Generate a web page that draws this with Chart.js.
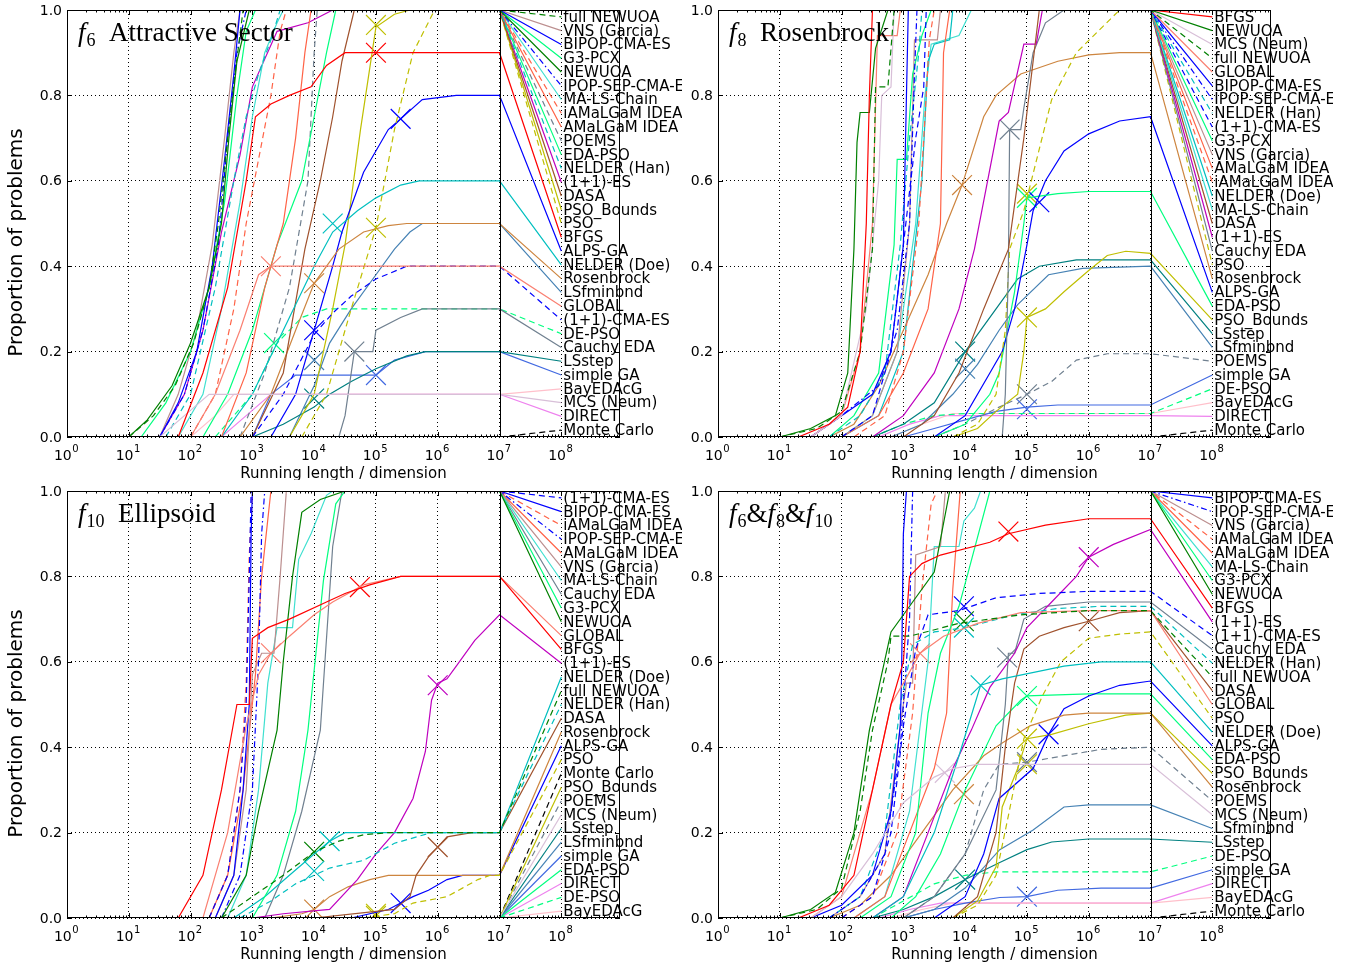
<!DOCTYPE html>
<html>
<head>
<meta charset="utf-8">
<script src="https://cdn.jsdelivr.net/npm/chart.js@4.4.0/dist/chart.umd.min.js"></script>
<style>
  body { margin: 0; background: #fff; width: 1355px; height: 967px; overflow: hidden; position: relative; }
  canvas { position: absolute; }
</style>
</head>
<body>
<canvas id="c6" width="682" height="480" style="left:0;top:0"></canvas>
<canvas id="c8" width="651" height="480" style="left:682px;top:0"></canvas>
<canvas id="c10" width="682" height="487" style="left:0;top:480px"></canvas>
<canvas id="call" width="651" height="487" style="left:682px;top:480px"></canvas>
<script>
// algorithm names (all panels use this order for the run arrays below)
const algos = ['BFGS', 'NEWUOA', 'full NEWUOA', 'MCS (Neum)', 'GLOBAL', 'BIPOP-CMA-ES', 'IPOP-SEP-CMA-ES',
  'NELDER (Han)', '(1+1)-CMA-ES', 'G3-PCX', 'VNS (Garcia)', 'AMaLGaM IDEA', 'iAMaLGaM IDEA', 'NELDER (Doe)',
  'MA-LS-Chain', 'DASA', '(1+1)-ES', 'Cauchy EDA', 'PSO', 'Rosenbrock', 'ALPS-GA', 'EDA-PSO', 'PSO_Bounds',
  'LSstep', 'LSfminbnd', 'POEMS', 'simple GA', 'DE-PSO', 'BayEDAcG', 'DIRECT', 'Monte Carlo'];

const algoColors = ['#ff0000', '#008000', '#008000', '#d8bfd8', '#fa8072', '#0000ff', '#0000ff',
  '#00bfbf', '#0000ff', '#00ff7f', '#bc8f8f', '#ff6347', '#ff6347', '#00bfbf',
  '#40e0d0', '#a0522d', '#bf00bf', '#708090', '#bfbf00', '#cd853f', '#0000ff', '#00ff7f', '#bfbf00',
  '#008080', '#4682b4', '#708090', '#4169e1', '#00ff7f', '#ffc0cb', '#ee82ee', '#000000'];

const algoStyles = ['-', '-', '--', '-', '-', '-', '-.', '--', '--', '-', '-', '-', '--', '-', '-', '-', '-', '-',
  '--', '-', '-', '-', '-', '-', '-', '--', '-', '--', '-', '-', '--'];

const xTicks = [0, 1, 2, 3, 4, 5, 6, 7, 8]; // exponents, shown as 10^k
const yTicks = [0, 0.2, 0.4, 0.6, 0.8, 1.0];

// runs: flat [log10(evals/dim), proportion, ...] pairs, same order as algos
const f6Runs = [
  [1.8,0, 2.2,0.15, 2.6,0.35, 2.9,0.6, 3.05,0.75, 3.3,0.78, 3.6,0.8, 3.95,0.82, 4.2,0.87, 4.5,0.9], // BFGS
  [1,0, 1.3,0.04, 1.7,0.12, 2,0.22, 2.3,0.35, 2.5,0.5, 2.62,0.7, 2.75,0.88, 2.95,1], // NEWUOA
  [1,0, 1.4,0.05, 1.75,0.12, 2.05,0.22, 2.3,0.35, 2.45,0.5, 2.6,0.7, 2.72,0.85, 2.85,1], // full NEWUOA
  [1.5,0, 1.9,0.05, 2.3,0.1], // MCS
  [2,0, 2.4,0.1, 2.8,0.25, 3.1,0.38, 3.3,0.4], // GLOBAL
  [1.5,0, 1.8,0.08, 2.1,0.2, 2.35,0.4, 2.55,0.65, 2.7,0.85, 2.8,1], // BIPOP
  [1.5,0, 1.9,0.1, 2.2,0.25, 2.45,0.45, 2.6,0.7, 2.75,0.9, 2.9,1], // IPOP-SEP
  [1.6,0, 2,0.1, 2.4,0.35, 2.7,0.6, 2.9,0.75, 3.1,0.85, 3.3,0.93, 3.45,1], // NELDER (Han)
  [3,0, 3.5,0.1, 4,0.24, 4.3,0.29, 4.6,0.33, 5,0.37, 5.5,0.4], // (1+1)-CMA-ES
  [1.2,0, 1.6,0.08, 2,0.2, 2.3,0.35, 2.55,0.55, 2.75,0.8, 2.9,0.95, 3.05,1], // G3-PCX
  [1.5,0, 1.8,0.1, 2.1,0.25, 2.35,0.45, 2.55,0.7, 2.7,0.9, 2.8,1], // VNS
  [2.5,0, 2.9,0.15, 3.2,0.35, 3.5,0.5, 3.7,0.7, 3.85,0.9, 3.95,1], // AMaLGaM
  [2,0, 2.4,0.1, 2.7,0.3, 2.9,0.5, 3.1,0.65, 3.3,0.8, 3.45,0.95, 3.55,1], // iAMaLGaM
  [2.5,0, 3,0.1, 3.5,0.25, 4,0.4, 4.3,0.48, 4.7,0.53, 5,0.56, 5.4,0.59, 5.7,0.6], // NELDER (Doe)
  [1.8,0, 2.2,0.1, 2.5,0.3, 2.8,0.55, 3,0.75, 3.2,0.9, 3.4,0.97, 3.5,1], // MA-LS-Chain
  [3,0, 3.5,0.15, 3.85,0.44, 4.1,0.6, 4.3,0.75, 4.45,0.88, 4.65,1], // DASA
  [1.5,0, 1.9,0.1, 2.2,0.25, 2.5,0.48, 2.8,0.66, 3,0.82, 3.4,0.95, 3.9,0.97, 4.3,1], // (1+1)-ES
  [4.4,0, 4.5,0.05, 4.6,0.15, 4.65,0.2, 4.95,0.2, 5,0.25, 5.4,0.28, 5.75,0.3], // Cauchy EDA
  [3.8,0, 4.2,0.1, 4.6,0.3, 5,0.49, 5.3,0.72, 5.6,0.9, 5.95,1], // PSO
  [2.8,0, 3.3,0.1, 3.7,0.25, 4,0.36, 4.4,0.44, 4.8,0.48, 5.2,0.495, 5.5,0.5], // Rosenbrock
  [3.3,0, 3.7,0.1, 4,0.25, 4.3,0.4, 4.45,0.48, 4.8,0.62, 5.2,0.72, 5.4,0.745, 5.75,0.79, 6.3,0.8], // ALPS-GA
  [2.2,0, 2.6,0.1, 3,0.25, 3.4,0.45, 3.8,0.6, 4,0.75, 4.2,0.9, 4.35,1], // EDA-PSO
  [3.6,0, 4,0.1, 4.3,0.3, 4.5,0.45, 4.75,0.72, 5,0.96, 5.3,0.99, 5.55,1], // PSO_Bounds
  [3,0, 3.5,0.03, 4,0.07, 4.25,0.1, 4.6,0.13, 5,0.16, 5.5,0.19, 5.8,0.2], // LSstep
  [3.6,0, 4,0.12, 4.25,0.22, 4.6,0.3, 5,0.38, 5.3,0.44, 5.55,0.48, 5.75,0.5], // LSfminbnd
  [2.8,0, 3.2,0.15, 3.6,0.35, 3.9,0.6, 4,0.9, 4.05,1], // POEMS
  [3,0, 3.3,0.1, 3.7,0.145, 5,0.145, 5.3,0.18, 5.8,0.2], // simple GA
  [2.4,0, 3,0.1, 3.4,0.22, 3.8,0.28, 4.2,0.3], // DE-PSO
  [2,0, 2.4,0.05, 2.7,0.1], // BayEDAcG
  [2.5,0, 2.9,0.05, 3.3,0.1], // DIRECT
  [7,0] // Monte Carlo
];

const f8Runs = [
  [1.3,0, 1.8,0.03, 2.1,0.07, 2.3,0.2, 2.4,0.5, 2.45,0.8, 2.5,1], // BFGS
  [1,0, 1.5,0.02, 1.9,0.05, 2.1,0.15, 2.2,0.44, 2.25,0.69, 2.3,0.76, 2.45,0.76, 2.55,0.91, 2.75,1], // NEWUOA
  [1,0, 1.6,0.02, 2,0.06, 2.3,0.2, 2.5,0.44, 2.55,0.82, 2.75,0.82, 2.85,1], // full NEWUOA
  [1.5,0, 2,0.05, 2.4,0.3, 2.6,0.6, 2.65,0.8, 2.8,0.82, 2.85,1], // MCS
  [1.5,0, 2,0.05, 2.3,0.2, 2.5,0.5, 2.58,0.94, 2.9,0.94, 2.95,1], // GLOBAL
  [1.5,0, 2,0.05, 2.5,0.1, 2.8,0.2, 3,0.45, 3.05,0.8, 3.08,1], // BIPOP
  [1.5,0, 2,0.05, 2.6,0.12, 2.9,0.25, 3.1,0.5, 3.18,0.85, 3.22,1], // IPOP-SEP
  [1.8,0, 2.3,0.05, 2.7,0.15, 2.95,0.45, 3.1,0.7, 3.25,0.9, 3.3,1], // NELDER (Han)
  [2,0, 2.5,0.05, 2.8,0.2, 3,0.45, 3.2,0.7, 3.33,0.82, 3.37,1], // (1+1)-CMA-ES
  [1.8,0, 2.2,0.05, 2.6,0.15, 2.85,0.45, 2.9,0.65, 3.05,0.65, 3.15,0.85, 3.3,0.94, 3.45,1], // G3-PCX
  [2,0, 2.5,0.05, 2.9,0.2, 3.1,0.5, 3.18,0.93, 3.55,0.93, 3.6,1], // VNS
  [2,0, 2.6,0.05, 3,0.15, 3.4,0.3, 3.6,0.5, 3.65,0.9, 3.75,1], // AMaLGaM
  [2.2,0, 2.7,0.05, 3,0.2, 3.25,0.5, 3.35,0.75, 3.42,0.93, 3.5,1], // iAMaLGaM
  [2,0, 2.6,0.05, 3,0.2, 3.3,0.6, 3.4,0.88, 3.5,0.92, 3.75,0.93, 3.8,1], // NELDER (Doe)
  [2,0, 2.5,0.05, 2.9,0.2, 3.2,0.5, 3.35,0.8, 3.45,0.92, 3.9,0.94, 4.1,1], // MA-LS-Chain
  [3,0, 3.5,0.05, 3.9,0.15, 4.3,0.3, 4.7,0.44, 4.95,0.7, 5.2,1], // DASA
  [2.5,0, 3,0.05, 3.5,0.15, 3.9,0.3, 4.15,0.44, 4.55,0.74, 4.7,0.76, 4.95,0.92, 5.15,0.92, 5.25,1], // (1+1)-ES
  [4.6,0, 4.65,0.1, 4.7,0.4, 4.72,0.72, 4.9,0.72, 4.95,0.77, 5.1,0.9, 5.3,0.97, 5.6,1], // Cauchy EDA
  [3.8,0, 4.2,0.03, 4.5,0.1, 4.65,0.25, 4.72,0.44, 4.95,0.53, 5.4,0.79, 5.8,0.9, 6.5,1], // PSO
  [1.8,0, 2.2,0.03, 2.6,0.12, 3,0.25, 3.4,0.38, 3.7,0.5, 3.95,0.59, 4.3,0.75, 4.5,0.8, 4.9,0.85, 5.5,0.88, 6,0.895, 6.5,0.9], // Rosenbrock
  [3.5,0, 4,0.05, 4.4,0.15, 4.6,0.2, 4.8,0.3, 5,0.45, 5.1,0.53, 5.3,0.6, 5.6,0.67, 6,0.71, 6.5,0.74, 7,0.75], // ALPS-GA
  [3.5,0, 4,0.03, 4.4,0.1, 4.55,0.15, 4.8,0.34, 4.95,0.5, 5,0.56, 5.5,0.57, 6,0.575], // EDA-PSO
  [3.8,0, 4.2,0.02, 4.5,0.06, 4.85,0.1, 4.95,0.2, 5,0.28, 5.3,0.3, 5.6,0.34, 6,0.39, 6.3,0.425, 6.6,0.435, 7,0.43], // PSO_Bounds
  [2.5,0, 3,0.03, 3.5,0.08, 4,0.2, 4.5,0.3, 4.85,0.37, 5.2,0.4, 5.8,0.415], // LSstep
  [2.8,0, 3.3,0.03, 3.8,0.1, 4.2,0.17, 4.55,0.25, 4.85,0.31, 5.35,0.38, 5.9,0.395, 7,0.4], // LSfminbnd
  [3.5,0, 4,0.03, 4.55,0.07, 5,0.1, 5.4,0.13, 5.8,0.18, 6.3,0.195, 7,0.195], // POEMS
  [3,0, 3.5,0.02, 4,0.04, 4.5,0.06, 5,0.07, 5.5,0.075], // simple GA
  [2.5,0, 3,0.03, 3.5,0.05, 4,0.055], // DE-PSO
  [2.8,0, 3.3,0.03, 3.8,0.055], // BayEDAcG
  [2.6,0, 3.1,0.03, 3.6,0.05], // DIRECT
  [7,0] // Monte Carlo
];

const f10Runs = [
  [1.8,0, 2.2,0.1, 2.5,0.3, 2.75,0.5, 2.95,0.5, 3,0.655, 3.25,0.68, 3.6,0.7, 4.2,0.74, 4.5,0.76, 4.9,0.78, 5.4,0.8], // BFGS
  [2.5,0, 2.9,0.1, 3.1,0.25, 3.4,0.44, 3.5,0.6, 3.65,0.8, 3.8,0.95, 4.1,0.98, 4.5,1], // NEWUOA
  [2.5,0, 3,0.05, 3.5,0.1, 4,0.155, 4.4,0.18, 4.8,0.195, 5.2,0.2], // full NEWUOA
  [7,0], // MCS
  [2.2,0, 2.6,0.2, 2.9,0.45, 3.1,0.57, 3.3,0.62, 3.6,0.66, 4,0.71, 4.3,0.74, 4.8,0.78, 5.4,0.8], // GLOBAL
  [2.4,0, 2.7,0.1, 2.85,0.3, 2.95,0.5, 2.98,0.9, 3,1], // BIPOP
  [2.5,0, 2.8,0.1, 3,0.3, 3.1,0.6, 3.15,0.9, 3.2,1], // IPOP-SEP
  [2.8,0, 3.3,0.04, 3.7,0.08, 4,0.1, 4.25,0.117, 4.8,0.135, 5.3,0.175, 5.9,0.2], // NELDER (Han)
  [2.3,0, 2.6,0.1, 2.8,0.3, 2.9,0.5, 2.95,0.8, 2.98,1], // (1+1)-CMA-ES
  [3,0, 3.4,0.1, 3.7,0.25, 3.9,0.44, 4.15,0.79, 4.35,0.97, 4.5,1], // G3-PCX
  [2.4,0, 2.7,0.1, 2.9,0.3, 3,0.57, 3.15,0.62, 3.35,0.62, 3.45,0.8, 3.55,1], // VNS
  [2.3,0, 2.6,0.1, 2.85,0.3, 3.05,0.57, 3.15,0.8, 3.3,1], // AMaLGaM
  [2.3,0, 2.6,0.1, 2.8,0.3, 2.9,0.55, 2.95,0.85, 3,1], // iAMaLGaM
  [2.7,0, 3.2,0.05, 3.6,0.1, 4,0.15, 4.25,0.18, 4.5,0.2], // NELDER (Doe)
  [2.6,0, 2.9,0.1, 3.1,0.3, 3.25,0.55, 3.4,0.68, 3.65,0.68, 3.75,0.84, 3.95,0.9, 4.2,0.99, 4.3,1], // MA-LS-Chain
  [4,0, 5.3,0.02, 5.55,0.05, 5.65,0.1, 5.85,0.143, 6,0.166, 6.15,0.19, 6.55,0.2], // DASA
  [3,0, 3.5,0.01, 4.25,0.02, 4.7,0.09, 5,0.15, 5.3,0.2, 5.6,0.28, 5.8,0.39, 5.9,0.51, 6,0.55, 6.15,0.56, 6.3,0.59, 6.6,0.65, 7,0.71], // (1+1)-ES
  [3.2,0, 3.5,0.1, 3.8,0.25, 4.1,0.44, 4.3,0.87, 4.45,1], // Cauchy EDA
  [4.8,0, 5.3,0.01, 5.6,0.035, 6.15,0.05, 6.4,0.07, 6.65,0.09, 6.85,0.1], // PSO
  [3.3,0, 3.8,0.01, 4,0.02, 4.25,0.05, 4.55,0.073, 4.9,0.09, 5.2,0.1], // Rosenbrock
  [4.6,0, 5.2,0.02, 5.4,0.035, 5.6,0.05, 5.85,0.065, 6.15,0.09, 6.4,0.1], // ALPS-GA
  [7,0], [7,0], [7,0], [7,0], [7,0], [7,0], [7,0], [7,0], [7,0], [7,0] // EDA-PSO .. Monte Carlo
];

const fAllRuns = [
  [1.3,0, 1.8,0.03, 2.2,0.1, 2.5,0.3, 2.8,0.5, 3,0.6, 3.1,0.8, 3.3,0.83, 3.6,0.85, 4.4,0.88, 4.7,0.9, 5.3,0.92, 6,0.935], // BFGS
  [1,0, 1.5,0.02, 1.9,0.06, 2.2,0.2, 2.45,0.44, 2.8,0.67, 3.15,0.74, 3.5,0.81, 3.75,1], // NEWUOA
  [1,0, 1.6,0.02, 2,0.07, 2.3,0.25, 2.5,0.44, 2.75,0.6, 2.8,0.66, 3.1,0.66, 3.9,0.69, 4.9,0.71, 6,0.72], // full NEWUOA
  [1.5,0, 2,0.05, 2.5,0.15, 3,0.27, 3.5,0.33, 3.8,0.35, 4.2,0.36], // MCS
  [1.5,0, 2,0.05, 2.5,0.3, 2.8,0.5, 3,0.55, 3.27,0.62, 3.65,0.66, 4.2,0.69, 4.9,0.715, 6,0.72], // GLOBAL
  [1.5,0, 2,0.03, 2.5,0.1, 2.8,0.25, 2.95,0.45, 2.97,0.56, 3,0.9, 3.05,1], // BIPOP
  [1.8,0, 2.3,0.05, 2.7,0.15, 2.95,0.4, 3.1,0.7, 3.15,1], // IPOP-SEP
  [1.8,0, 2.3,0.05, 2.7,0.2, 2.95,0.5, 3.15,0.64, 3.5,0.67, 4,0.68, 4.8,0.71, 5.5,0.725, 6.2,0.73], // NELDER (Han)
  [2,0, 2.5,0.05, 2.8,0.2, 3,0.45, 3.2,0.63, 3.4,0.71, 3.9,0.72, 4.5,0.75, 5.2,0.76, 6,0.765], // (1+1)-CMA-ES
  [2.3,0, 2.8,0.05, 3.2,0.2, 3.4,0.48, 3.6,0.62, 3.9,0.73, 4.05,0.81, 4.4,1], // G3-PCX
  [1.8,0, 2.3,0.05, 2.7,0.15, 2.95,0.45, 3.05,0.55, 3.15,0.55, 3.2,0.85, 3.6,0.87, 3.68,1], // VNS
  [2.2,0, 2.7,0.05, 3.1,0.2, 3.5,0.35, 3.7,0.48, 3.8,0.77, 3.92,1], // AMaLGaM
  [2,0, 2.5,0.05, 2.9,0.2, 3.15,0.48, 3.3,0.77, 3.45,0.97, 3.55,1], // iAMaLGaM
  [2.5,0, 3,0.05, 3.5,0.2, 3.9,0.38, 4.25,0.545, 4.6,0.56, 5.6,0.59, 6.2,0.6], // NELDER (Doe)
  [2.2,0, 2.7,0.05, 3.1,0.25, 3.4,0.6, 3.5,0.87, 3.9,0.87, 3.98,0.93, 4.15,0.96, 4.25,1], // MA-LS-Chain
  [3.8,0, 4.2,0.05, 4.5,0.2, 4.65,0.4, 4.8,0.55, 4.95,0.63, 5.2,0.66, 5.6,0.68, 6,0.695, 6.5,0.715, 7,0.72], // DASA
  [2.5,0, 3,0.05, 3.4,0.2, 3.8,0.35, 4.1,0.44, 4.4,0.54, 4.8,0.62, 5,0.68, 5.4,0.74, 5.8,0.8, 6,0.845, 6.4,0.875, 7,0.91], // (1+1)-ES
  [3,0, 3.5,0.05, 4,0.15, 4.5,0.3, 4.65,0.5, 4.7,0.62, 4.8,0.62, 4.95,0.7, 5.3,0.73, 6,0.74], // Cauchy EDA
  [3.8,0, 4.2,0.03, 4.5,0.1, 4.7,0.24, 4.95,0.42, 5.25,0.52, 5.55,0.6, 6,0.655, 6.5,0.665, 7,0.67], // PSO
  [1.8,0, 2.3,0.03, 2.8,0.1, 3.3,0.2, 3.8,0.3, 4.3,0.38, 4.6,0.41, 5.05,0.45, 5.6,0.475, 6,0.48], // Rosenbrock
  [3.5,0, 4,0.05, 4.3,0.15, 4.55,0.28, 5.1,0.35, 5.35,0.43, 5.6,0.49, 6,0.52, 6.5,0.545, 7,0.555], // ALPS-GA
  [2.8,0, 3.2,0.05, 3.6,0.15, 4,0.3, 4.5,0.45, 4.9,0.51, 5,0.52, 6,0.525], // EDA-PSO
  [3.8,0, 4.2,0.04, 4.5,0.12, 4.6,0.26, 4.85,0.35, 5,0.42, 5.4,0.43, 6,0.455, 6.6,0.475, 7,0.48], // PSO_Bounds
  [2.5,0, 3,0.02, 3.5,0.05, 4,0.09, 4.56,0.13, 5,0.16, 5.4,0.178, 6,0.185], // LSstep
  [3,0, 3.5,0.02, 4,0.07, 4.56,0.16, 5.1,0.206, 5.6,0.26, 6,0.265], // LSfminbnd
  [3,0, 3.5,0.05, 4,0.15, 4.3,0.3, 4.55,0.36, 5,0.365, 5.4,0.375, 6.2,0.395, 7,0.4], // POEMS
  [3,0, 3.5,0.02, 4,0.035, 4.56,0.048, 5,0.05, 5.5,0.065, 6.2,0.07], // simple GA
  [2.5,0, 3,0.04, 3.5,0.08, 4,0.1, 4.5,0.108], // DE-PSO
  [2.8,0, 3.3,0.02, 3.8,0.035], // BayEDAcG
  [2.6,0, 3.1,0.02, 3.6,0.035], // DIRECT
  [7,0] // Monte Carlo
];

// label order on the right-hand side of each panel (top to bottom)
const f6Order = ['full NEWUOA', 'VNS (Garcia)', 'BIPOP-CMA-ES', 'G3-PCX', 'NEWUOA', 'IPOP-SEP-CMA-ES', 'MA-LS-Chain',
  'iAMaLGaM IDEA', 'AMaLGaM IDEA', 'POEMS', 'EDA-PSO', 'NELDER (Han)', '(1+1)-ES', 'DASA', 'PSO_Bounds', 'PSO',
  'BFGS', 'ALPS-GA', 'NELDER (Doe)', 'Rosenbrock', 'LSfminbnd', 'GLOBAL', '(1+1)-CMA-ES', 'DE-PSO', 'Cauchy EDA',
  'LSstep', 'simple GA', 'BayEDAcG', 'MCS (Neum)', 'DIRECT', 'Monte Carlo'];
const f8Order = ['BFGS', 'NEWUOA', 'MCS (Neum)', 'full NEWUOA', 'GLOBAL', 'BIPOP-CMA-ES', 'IPOP-SEP-CMA-ES',
  'NELDER (Han)', '(1+1)-CMA-ES', 'G3-PCX', 'VNS (Garcia)', 'AMaLGaM IDEA', 'iAMaLGaM IDEA', 'NELDER (Doe)',
  'MA-LS-Chain', 'DASA', '(1+1)-ES', 'Cauchy EDA', 'PSO', 'Rosenbrock', 'ALPS-GA', 'EDA-PSO', 'PSO_Bounds',
  'LSstep', 'LSfminbnd', 'POEMS', 'simple GA', 'DE-PSO', 'BayEDAcG', 'DIRECT', 'Monte Carlo'];
const f10Order = ['(1+1)-CMA-ES', 'BIPOP-CMA-ES', 'iAMaLGaM IDEA', 'IPOP-SEP-CMA-ES', 'AMaLGaM IDEA', 'VNS (Garcia)',
  'MA-LS-Chain', 'Cauchy EDA', 'G3-PCX', 'NEWUOA', 'GLOBAL', 'BFGS', '(1+1)-ES', 'NELDER (Doe)', 'full NEWUOA',
  'NELDER (Han)', 'DASA', 'Rosenbrock', 'ALPS-GA', 'PSO', 'Monte Carlo', 'PSO_Bounds', 'POEMS', 'MCS (Neum)',
  'LSstep', 'LSfminbnd', 'simple GA', 'EDA-PSO', 'DIRECT', 'DE-PSO', 'BayEDAcG'];
const fAllOrder = ['BIPOP-CMA-ES', 'IPOP-SEP-CMA-ES', 'VNS (Garcia)', 'iAMaLGaM IDEA', 'AMaLGaM IDEA', 'MA-LS-Chain',
  'G3-PCX', 'NEWUOA', 'BFGS', '(1+1)-ES', '(1+1)-CMA-ES', 'Cauchy EDA', 'NELDER (Han)', 'full NEWUOA', 'DASA',
  'GLOBAL', 'PSO', 'NELDER (Doe)', 'ALPS-GA', 'EDA-PSO', 'PSO_Bounds', 'Rosenbrock', 'POEMS', 'MCS (Neum)',
  'LSfminbnd', 'LSstep', 'DE-PSO', 'simple GA', 'DIRECT', 'BayEDAcG', 'Monte Carlo'];

// cross markers: [algorithm, log10 x, proportion]
const f6Marks = [['BFGS', 5, 0.9], ['ALPS-GA', 5.4, 0.745], ['PSO_Bounds', 5, 0.965], ['PSO', 5, 0.49],
  ['NELDER (Doe)', 4.3, 0.5], ['Rosenbrock', 4, 0.36], ['GLOBAL', 3.3, 0.4], ['(1+1)-CMA-ES', 4, 0.25],
  ['Cauchy EDA', 4.65, 0.2], ['simple GA', 5, 0.145], ['LSstep', 4, 0.09], ['DE-PSO', 3.35, 0.22], ['LSfminbnd', 4, 0.18]];
const f8Marks = [['Rosenbrock', 3.95, 0.59], ['Cauchy EDA', 4.72, 0.72], ['PSO', 5, 0.57], ['EDA-PSO', 5, 0.56],
  ['ALPS-GA', 5.2, 0.55], ['PSO_Bounds', 5, 0.28], ['POEMS', 5, 0.1], ['simple GA', 5, 0.065],
  ['LSstep', 4, 0.2], ['LSfminbnd', 4, 0.16]];
const f10Marks = [['GLOBAL', 3.3, 0.62], ['BFGS', 4.74, 0.775], ['(1+1)-ES', 6, 0.545], ['DASA', 6, 0.166],
  ['ALPS-GA', 5.4, 0.035], ['PSO', 5, 0.01], ['NELDER (Doe)', 4.25, 0.18], ['full NEWUOA', 4, 0.155],
  ['NELDER (Han)', 4, 0.11], ['Rosenbrock', 4, 0.02], ['PSO_Bounds', 5, 0.005]];
const fAllMarks = [['BFGS', 4.7, 0.905], ['(1+1)-ES', 6, 0.845], ['(1+1)-CMA-ES', 3.98, 0.73], ['full NEWUOA', 3.98, 0.695],
  ['NELDER (Han)', 3.98, 0.68], ['GLOBAL', 3.27, 0.62], ['Cauchy EDA', 4.68, 0.61], ['NELDER (Doe)', 4.25, 0.545],
  ['DASA', 6, 0.695], ['EDA-PSO', 5, 0.52], ['ALPS-GA', 5.35, 0.43], ['PSO_Bounds', 5, 0.42], ['PSO', 5, 0.36],
  ['POEMS', 5, 0.365], ['MCS (Neum)', 3.67, 0.34], ['Rosenbrock', 3.98, 0.29], ['simple GA', 5, 0.05], ['LSstep', 4, 0.09]];

const dashFor = { '-': [], '--': [6, 4], '-.': [6, 3, 1.5, 3] };
const SANS = 'DejaVu Sans';

function labelY(rank) {
  return 1 - (rank + 0.5) / algos.length;
}

// turn a flat run into points, hold the last value to 10^7, then run to its label at 10^8
function runPoints(flat, rank) {
  const pts = [];
  for (let i = 0; i < flat.length; i += 2) pts.push({ x: flat[i], y: flat[i + 1] });
  const last = pts[pts.length - 1];
  if (last.x < 7) pts.push({ x: 7, y: last.y });
  pts.push({ x: 8, y: labelY(rank) });
  return pts;
}

// frame, 10^7 line, inward ticks, tick labels, right-side labels, titles
const decor = {
  id: 'decor',
  afterDatasetsDraw(chart, args, opts) {
    const { ctx, chartArea: a, scales: { x, y } } = chart;
    ctx.save();
    ctx.strokeStyle = '#000';
    ctx.lineWidth = 1;
    ctx.setLineDash([]);

    const x7 = Math.round(x.getPixelForValue(7)) + 0.5;
    ctx.beginPath();
    ctx.moveTo(x7, a.top);
    ctx.lineTo(x7, a.bottom);
    ctx.stroke();

    ctx.strokeRect(Math.round(a.left) + 0.5, Math.round(a.top) + 0.5, Math.round(a.width) - 1, Math.round(a.height) - 1);

    // ticks
    ctx.beginPath();
    xTicks.forEach(k => {
      for (let m = 1; m <= 9; m++) {
        const v = k + Math.log10(m);
        if (v > x.max) break;
        const px = Math.round(x.getPixelForValue(v)) + 0.5;
        const len = m === 1 ? 5 : 2.5;
        ctx.moveTo(px, a.bottom); ctx.lineTo(px, a.bottom - len);
        ctx.moveTo(px, a.top); ctx.lineTo(px, a.top + len);
      }
    });
    yTicks.forEach(v => {
      const py = Math.round(y.getPixelForValue(v)) + 0.5;
      ctx.moveTo(a.left, py); ctx.lineTo(a.left + 5, py);
      ctx.moveTo(a.right, py); ctx.lineTo(a.right - 5, py);
    });
    ctx.stroke();

    ctx.fillStyle = '#000';

    // y tick labels
    ctx.font = '14px "' + SANS + '"';
    ctx.textAlign = 'right';
    ctx.textBaseline = 'middle';
    yTicks.forEach(v => ctx.fillText(v.toFixed(1), a.left - 5, y.getPixelForValue(v) + 1));

    // x tick labels 10^k
    ctx.textBaseline = 'alphabetic';
    ctx.textAlign = 'left';
    xTicks.forEach(k => {
      const px = x.getPixelForValue(k);
      ctx.font = '14px "' + SANS + '"';
      const w1 = ctx.measureText('10').width;
      ctx.font = '10px "' + SANS + '"';
      const w2 = ctx.measureText(String(k)).width;
      const x0 = px - (w1 + w2) / 2 - 1;
      ctx.font = '14px "' + SANS + '"';
      ctx.fillText('10', x0, a.bottom + 23);
      ctx.font = '10px "' + SANS + '"';
      ctx.fillText(String(k), x0 + w1 + 0.5, a.bottom + 15);
    });

    // x title
    ctx.font = '15px "' + SANS + '"';
    ctx.textAlign = 'center';
    ctx.fillText('Running length / dimension', (a.left + a.right) / 2, a.bottom + 41);

    // labels at the right
    ctx.textAlign = 'left';
    ctx.textBaseline = 'middle';
    const lx = x.getPixelForValue(8) + 2;
    opts.order.forEach((name, r) => {
      ctx.fillText(name, lx, y.getPixelForValue(labelY(r)) + 1);
    });

    // y title
    if (opts.yTitle) {
      ctx.save();
      ctx.translate(17, (a.top + a.bottom) / 2 + 19);
      ctx.rotate(-Math.PI / 2);
      ctx.textAlign = 'center';
      ctx.font = '20px "' + SANS + '"';
      ctx.fillText(opts.yTitle, 0, 0);
      ctx.restore();
    }

    // panel title, tokens: [text, 'i' italic | 's' subscript | 'r' roman]
    let tx = a.left + 11;
    const ty = a.top + 31;
    ctx.textBaseline = 'alphabetic';
    opts.title.forEach(([t, s]) => {
      if (s === 'i') ctx.font = 'italic 27px "Liberation Serif"';
      else if (s === 's') ctx.font = '18px "Liberation Serif"';
      else ctx.font = '27px "Liberation Serif"';
      ctx.fillText(t, tx, s === 's' ? ty + 5 : ty);
      tx += ctx.measureText(t).width + (s === 'i' ? 1 : 0);
    });
    ctx.restore();
  }
};

function makePanel(id, runs, order, marks, title, yTitle, axisW, topPad, rightPad, xAxisH) {
  const datasets = algos.map((name, i) => ({
    label: name,
    data: runPoints(runs[i], order.indexOf(name)),
    borderColor: algoColors[i],
    borderDash: dashFor[algoStyles[i]],
    borderWidth: 1.2,
    pointRadius: 0,
    fill: false,
    tension: 0
  }));
  datasets.push({
    label: 'marks',
    data: marks.map(m => ({ x: m[1], y: m[2] })),
    showLine: false,
    pointStyle: 'crossRot',
    pointRadius: 14,
    pointBorderWidth: 1.2,
    pointBackgroundColor: 'rgba(0,0,0,0)',
    pointBorderColor: marks.map(m => algoColors[algos.indexOf(m[0])])
  });

  new Chart(document.getElementById(id), {
    type: 'line',
    data: { datasets },
    plugins: [decor],
    options: {
      responsive: false,
      animation: false,
      devicePixelRatio: 1,
      layout: { autoPadding: false, padding: { left: 0, top: topPad, right: rightPad, bottom: 0 } },
      plugins: {
        legend: { display: false },
        tooltip: { enabled: false },
        decor: { order, title, yTitle }
      },
      scales: {
        x: {
          type: 'linear', min: 0, max: 8.95,
          afterFit: s => { s.height = xAxisH; },
          afterBuildTicks: s => { s.ticks = xTicks.map(v => ({ value: v })); },
          ticks: { display: false },
          grid: { color: '#000', lineWidth: 1, drawTicks: false },
          border: { display: false, dash: [1, 3] }
        },
        y: {
          min: 0, max: 1,
          afterFit: s => { s.width = axisW; },
          afterBuildTicks: s => { s.ticks = yTicks.map(v => ({ value: v })); },
          ticks: { display: false },
          grid: { color: '#000', lineWidth: 1, drawTicks: false },
          border: { display: false, dash: [1, 3] }
        }
      }
    }
  });
}

makePanel('c6', f6Runs, f6Order, f6Marks,
  [['f', 'i'], ['6', 's'], ['  Attractive Sector', 'r']], 'Proportion of problems', 67, 10, 62, 43);
makePanel('c8', f8Runs, f8Order, f8Marks,
  [['f', 'i'], ['8', 's'], ['  Rosenbrock', 'r']], null, 36, 10, 62, 43);
makePanel('c10', f10Runs, f10Order, f10Marks,
  [['f', 'i'], ['10', 's'], ['  Ellipsoid', 'r']], 'Proportion of problems', 67, 11, 62, 49);
makePanel('call', fAllRuns, fAllOrder, fAllMarks,
  [['f', 'i'], ['6', 's'], ['&', 'r'], ['f', 'i'], ['8', 's'], ['&', 'r'], ['f', 'i'], ['10', 's']], null, 36, 11, 62, 49);
</script>
</body>
</html>
